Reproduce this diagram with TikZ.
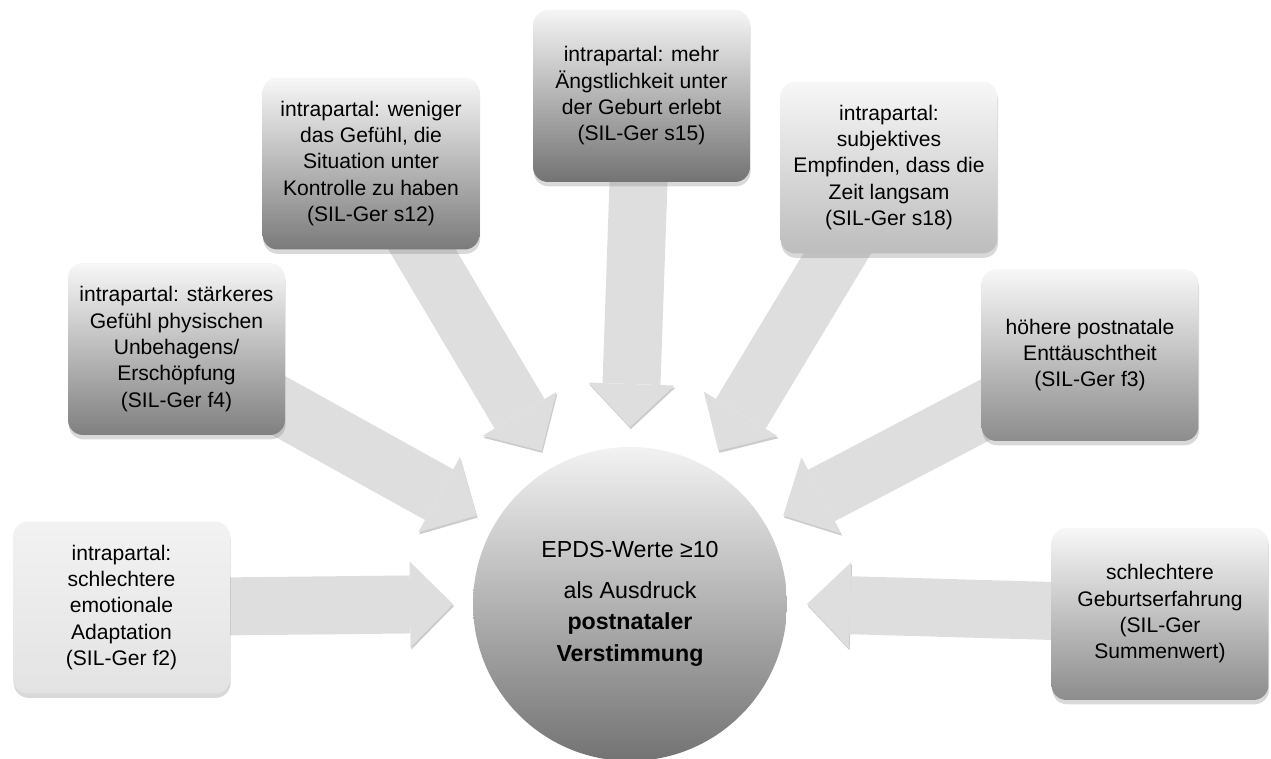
\documentclass[tikz,border=0pt]{standalone}
\usepackage{fontspec}
\setmainfont{Liberation Sans}
\usetikzlibrary{arrows.meta,shadows}
\pgfdeclarelayer{bg}
\pgfsetlayers{bg,main}

\begin{document}
\begin{tikzpicture}[x=0.02cm, y=0.02cm]
		\tikzstyle{every node}+=[inner sep=0pt, align=center, font=\fontsize{12}{15}\selectfont]
		\tikzstyle{kasten}=[rounded corners=0.3cm, minimum width=4.34cm, minimum height=3.44cm, drop shadow={shadow xshift=0.4pt, shadow yshift=-2.5pt, opacity=0.3}]
		\tikzstyle{pfeil}=[draw=black!13, line width=1.16cm, -{Triangle[length=0.86cm, width=1.72cm, line width=0pt]}, preaction={draw=black!20, transform canvas={shift={(0.5pt,-1.2pt)}}}]
		\useasboundingbox (0,0) rectangle (1271,-758);
		% ziel in der mitte
		\node [circle, minimum size=6.28cm, top color=black!5, middle color=black!15, bottom color=black!55, font=\fontsize{13.2}{18}\selectfont] (ziel) at (630,-604) {EPDS-Werte ≥10\\[5pt]als Ausdruck\\\textbf{postnataler}\\\textbf{Verstimmung}};
		% die sieben kaesten
		\node [kasten, top color=black!5, bottom color=black!11] (kA) at (121.5,-607.5) {intrapartal:\\schlechtere\\emotionale\\Adaptation\\(SIL-Ger f2)};
		\node [kasten, top color=black!3, middle color=black!14, bottom color=black!50] (kB) at (176.5,-349) {intrapartal: stärkeres\\Gefühl physischen\\Unbehagens/\\Erschöpfung\\(SIL-Ger f4)};
		\node [kasten, top color=black!3, middle color=black!15, bottom color=black!52] (kC) at (371,-163.5) {intrapartal: weniger\\das Gefühl, die\\Situation unter\\Kontrolle zu haben\\(SIL-Ger s12)};
		\node [kasten, top color=black!4, middle color=black!18, bottom color=black!55] (kD) at (641.5,-96) {intrapartal: mehr\\Ängstlichkeit unter\\der Geburt erlebt\\(SIL-Ger s15)};
		\node [kasten, top color=black!3, middle color=black!8, bottom color=black!26] (kE) at (889,-167.5) {intrapartal:\\subjektives\\Empfinden, dass die\\Zeit langsam\\(SIL-Ger s18)};
		\node [kasten, top color=black!3, middle color=black!9, bottom color=black!45] (kF) at (1090,-355) {höhere postnatale\\Enttäuschtheit\\(SIL-Ger f3)};
		\node [kasten, top color=black!3, middle color=black!10, bottom color=black!45] (kG) at (1160,-614) {schlechtere\\Geburtserfahrung\\(SIL-Ger\\Summenwert)};
		% pfeilspitzen rund um den kreis
		\foreach \w/\n in {180/A,150/B,120/C,90/D,60/E,30/F,0/G}
			\path (ziel.center) ++(\w:177) coordinate (z\n);
		\begin{pgfonlayer}{bg}
			\foreach \n in {A,B,C,D,E,F,G}
				\draw [pfeil] (k\n.center) -- (z\n);
		\end{pgfonlayer}
	\end{tikzpicture}
\end{document}
